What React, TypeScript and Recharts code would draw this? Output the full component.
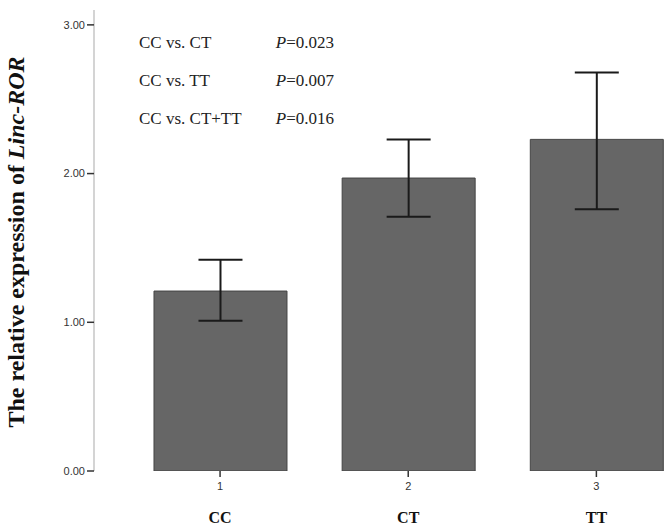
import { Bar, BarChart, ErrorBar, XAxis, YAxis } from "recharts";

const groupNums = [1, 2, 3];
const genotypes = ["CC", "CT", "TT"];
const means = [1.21, 1.97, 2.23];
const lowerCI = [1.01, 1.71, 1.76];
const upperCI = [1.42, 2.23, 2.68];
const yTicks = [0, 1, 2, 3];

const comparisons = ["CC vs. CT", "CC vs. TT", "CC vs. CT+TT"];
const pValues = ["0.023", "0.007", "0.016"];

const data = groupNums.map((n, i) => ({
  n,
  label: genotypes[i],
  mean: means[i],
  err: [means[i] - lowerCI[i], upperCI[i] - means[i]],
}));

const XTick = (props: any) => {
  const { x, y, payload, index } = props;
  return (
    <g>
      <line x1={x} y1={y} x2={x} y2={y + 6} stroke="#333" strokeWidth={1.5} />
      <text
        x={x}
        y={y + 19}
        textAnchor="middle"
        fontFamily="Liberation Sans, Arial, sans-serif"
        fontSize={11}
        fill="#333"
      >
        {payload.value}
      </text>
      <text
        x={x}
        y={y + 52}
        textAnchor="middle"
        fontFamily="Liberation Serif, Times New Roman, serif"
        fontWeight="bold"
        fontSize={16}
        fill="#111"
      >
        {genotypes[index]}
      </text>
    </g>
  );
};

export default function App() {
  return (
    <div
      style={{
        position: "absolute",
        left: 0,
        top: 0,
        width: 666,
        height: 527,
        background: "#fff",
      }}
    >
      <BarChart
        width={666}
        height={527}
        data={data}
        margin={{ top: 10, right: 0, bottom: 0, left: 0 }}
      >
        <XAxis
          dataKey="n"
          type="number"
          domain={[0.33, 3.37]}
          allowDataOverflow
          ticks={groupNums}
          axisLine={false}
          tickLine={false}
          tickSize={0}
          tickMargin={0}
          height={56}
          tick={<XTick />}
          interval={0}
        />
        <YAxis
          type="number"
          domain={[0, 3.1]}
          ticks={yTicks}
          width={94}
          allowDataOverflow
          axisLine={{ stroke: "#d4d4d4", strokeWidth: 2 }}
          tickLine={{ stroke: "#333", strokeWidth: 1.5 }}
          tickSize={7}
          tickMargin={2}
          tickFormatter={(v) => Number(v).toFixed(2)}
          tick={{
            fill: "#333",
            fontSize: 11,
            fontFamily: "Liberation Sans, Arial, sans-serif",
          }}
        />
        <Bar
          dataKey="mean"
          fill="#666666"
          stroke="#444"
          strokeWidth={1}
          barSize={133}
          isAnimationActive={false}
        >
          <ErrorBar
            dataKey="err"
            direction="y"
            width={22}
            stroke="#1a1a1a"
            strokeWidth={2}
          />
        </Bar>
      </BarChart>

      <div
        style={{
          position: "absolute",
          left: 16,
          top: 242,
          transform: "translate(-50%, -50%) rotate(-90deg)",
          whiteSpace: "nowrap",
          fontFamily: "Liberation Serif, Times New Roman, serif",
          fontWeight: "bold",
          fontSize: 24,
          color: "#111",
        }}
      >
        The relative expression of <i>Linc-ROR</i>
      </div>

      {comparisons.map((c, i) => (
        <div
          key={c}
          style={{
            position: "absolute",
            left: 139,
            top: 33 + i * 38,
            width: 195,
            display: "flex",
            justifyContent: "space-between",
            fontFamily: "Liberation Serif, Times New Roman, serif",
            fontSize: 17,
            lineHeight: "20px",
            color: "#222",
            whiteSpace: "nowrap",
          }}
        >
          <span>{c}</span>
          <span>
            <i>P</i>={pValues[i]}
          </span>
        </div>
      ))}
    </div>
  );
}
